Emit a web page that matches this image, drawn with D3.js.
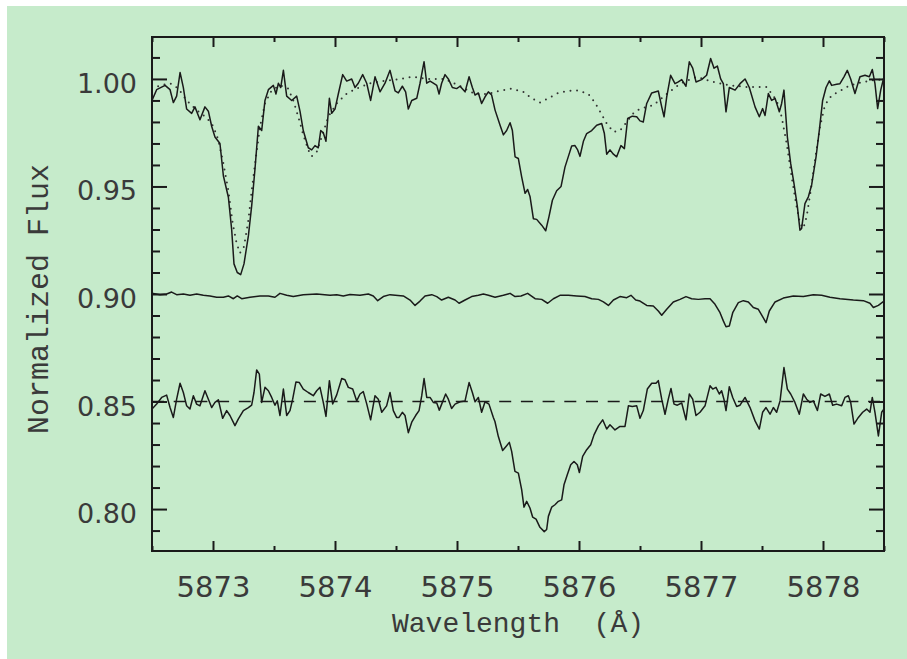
<!DOCTYPE html>
<html><head><meta charset="utf-8">
<script src="https://cdn.jsdelivr.net/npm/d3@7"></script>
<style>html,body{margin:0;padding:0;background:#fff;}svg{display:block}</style>
</head><body>
<svg id="chart" width="907" height="659"></svg>
<script>
// ---- data ----
const obsWave = [5872.500,5872.538,5872.607,5872.648,5872.675,5872.702,5872.730,5872.757,5872.784,5872.825,5872.852,5872.893,5872.934,5872.962,5872.989,5873.016,5873.057,5873.085,5873.126,5873.153,5873.172,5873.199,5873.227,5873.254,5873.290,5873.317,5873.344,5873.372,5873.399,5873.426,5873.454,5873.495,5873.516,5873.536,5873.555,5873.577,5873.604,5873.645,5873.686,5873.713,5873.740,5873.781,5873.809,5873.836,5873.863,5873.883,5873.904,5873.926,5873.954,5873.973,5874.000,5874.027,5874.063,5874.096,5874.137,5874.164,5874.191,5874.227,5874.260,5874.292,5874.328,5874.369,5874.410,5874.451,5874.492,
5874.519,5874.552,5874.579,5874.601,5874.629,5874.670,5874.697,5874.730,5874.752,5874.779,5874.806,5874.834,5874.853,5874.874,5874.902,5874.929,5874.962,5874.997,5875.025,5875.066,5875.099,5875.126,5875.148,5875.175,5875.202,5875.230,5875.257,5875.284,5875.312,5875.353,5875.380,5875.407,5875.435,5875.454,5875.476,5875.503,5875.530,5875.558,5875.579,5875.599,5875.626,5875.653,5875.694,5875.727,5875.754,5875.782,5875.817,5875.853,5875.885,5875.913,5875.940,5875.967,5875.989,5876.008,5876.036,5876.063,5876.104,5876.145,5876.186,5876.208,5876.227,5876.254,5876.282,5876.309,5876.344,5876.372,5876.399,5876.437,5876.473,5876.500,
5876.527,5876.555,5876.596,5876.650,5876.678,5876.697,5876.719,5876.751,5876.787,5876.814,5876.842,5876.877,5876.904,5876.932,5876.959,5877.005,5877.046,5877.079,5877.107,5877.134,5877.161,5877.183,5877.205,5877.232,5877.279,5877.320,5877.361,5877.396,5877.443,5877.478,5877.505,5877.525,5877.552,5877.579,5877.607,5877.642,5877.661,5877.680,5877.708,5877.735,5877.762,5877.790,5877.811,5877.825,5877.852,5877.880,5877.907,5877.943,5877.970,5877.997,5878.025,5878.052,5878.071,5878.112,5878.139,5878.172,5878.199,5878.227,5878.262,5878.303,5878.344,5878.380,5878.404,5878.426,5878.448,5878.473,5878.500];
const obsFlux = [0.990,0.995,0.997,0.995,0.989,0.992,1.003,0.996,0.986,0.984,0.987,0.981,0.987,0.985,0.978,0.973,0.970,0.955,0.945,0.930,0.914,0.910,0.909,0.914,0.927,0.941,0.958,0.978,0.976,0.990,0.995,0.997,0.993,0.998,0.996,1.004,0.992,0.990,0.992,0.985,0.976,0.968,0.967,0.969,0.968,0.976,0.975,0.971,0.991,0.984,0.986,0.993,1.002,0.999,1.000,0.996,0.998,1.002,0.998,0.990,1.001,0.994,0.998,1.004,0.9945,
0.9935,0.9966,0.994,0.986,0.990,0.991,0.998,1.008,0.998,0.999,0.998,0.997,0.993,0.998,1.002,1.000,0.996,0.9955,0.9966,0.994,1.001,0.996,0.9925,0.9935,0.9886,0.9917,0.994,0.9925,0.9855,0.9785,0.974,0.976,0.9796,0.976,0.9638,0.963,0.9545,0.9468,0.9486,0.9452,0.935,0.9347,0.932,0.9294,0.936,0.9436,0.948,0.950,0.959,0.964,0.9688,0.969,0.967,0.964,0.971,0.9746,0.976,0.9785,0.9793,0.9746,0.965,0.967,0.965,0.9638,0.969,0.9676,0.9816,0.9827,0.9824,0.9805,
0.980,0.9886,0.9935,0.9944,0.987,0.9824,0.9917,1.0017,0.9978,0.9986,0.9997,0.9966,1.008,1.005,0.9986,0.9997,1.0017,1.0095,1.005,1.006,1.000,0.9978,0.9847,0.996,0.9948,0.9978,1.000,0.996,0.987,0.9824,0.9862,0.983,0.9932,0.990,0.991,0.9847,0.9886,0.9948,0.973,0.9607,0.9514,0.9406,0.9297,0.9305,0.942,0.9452,0.9507,0.9638,0.9762,0.990,0.996,0.9991,0.997,0.9975,0.9978,1.001,1.004,1.000,0.9932,1.001,1.0017,1.001,1.0044,0.9978,0.9862,0.9948,1.001];

const modelWave = [5872.500,5872.566,5872.648,5872.716,5872.784,5872.866,5872.948,5873.003,5873.044,5873.085,5873.126,5873.161,5873.194,5873.221,5873.254,5873.290,5873.317,5873.352,5873.385,5873.426,5873.481,5873.549,5873.617,5873.658,5873.699,5873.740,5873.781,5873.809,5873.850,5873.891,5873.945,5874.014,5874.096,5874.178,5874.287,5874.396,5874.533,5874.629,5874.765,5874.902,5875.038,5875.148,5875.257,5875.339,5875.448,5875.544,5875.612,5875.680,5875.749,5875.831,5875.913,5875.995,5876.077,5876.131,5876.181,5876.227,5876.282,5876.336,5876.391,5876.445,5876.500,5876.609,5876.719,5876.828,5876.964,5877.101,5877.238,5877.374,5877.538,5877.620,5877.661,5877.702,5877.743,5877.779,5877.811,5877.839,5877.866,5877.899,5877.934,5877.975,5878.016,5878.071,5878.139,5878.221,5878.331,5878.413,5878.500];
const modelFlux = [0.9955,0.997,0.998,0.9955,0.990,0.9855,0.982,0.978,0.9715,0.9607,0.948,0.933,0.9235,0.919,0.922,0.9344,0.948,0.9638,0.9777,0.9886,0.9947,0.997,0.9955,0.990,0.9824,0.974,0.967,0.964,0.966,0.973,0.9824,0.9886,0.9932,0.9955,0.998,0.999,1.000,1.001,1.000,1.000,0.9963,0.993,0.993,0.9944,0.9955,0.994,0.991,0.989,0.991,0.9935,0.9944,0.9947,0.993,0.989,0.984,0.9793,0.9754,0.976,0.980,0.984,0.9862,0.9878,0.993,0.9978,1.001,0.9986,0.997,0.9963,0.9963,0.990,0.9824,0.970,0.9545,0.942,0.9328,0.9305,0.936,0.948,0.962,0.9777,0.9878,0.9924,0.9944,0.997,0.9986,0.9994,0.9997];

const tellWave = [5872.500,5872.566,5872.620,5872.661,5872.702,5872.757,5872.811,5872.866,5872.921,5872.975,5873.030,5873.085,5873.126,5873.167,5873.199,5873.235,5873.303,5873.385,5873.454,5873.508,5873.549,5873.604,5873.658,5873.740,5873.850,5873.959,5874.014,5874.068,5874.123,5874.205,5874.273,5874.314,5874.350,5874.396,5874.451,5874.560,5874.615,5874.656,5874.697,5874.738,5874.793,5874.834,5874.874,5874.929,5874.984,5875.017,5875.066,5875.120,5875.175,5875.216,5875.257,5875.312,5875.380,5875.435,5875.476,5875.525,5875.579,5875.640,5875.694,5875.743,5875.790,5875.844,5875.913,5875.981,5876.049,5876.104,5876.159,5876.200,5876.241,5876.282,5876.336,5876.391,5876.426,5876.465,5876.500,5876.555,5876.609,5876.650,5876.678,5876.719,5876.773,5876.828,5876.877,5876.923,5876.978,5877.033,5877.074,5877.115,5877.156,5877.183,5877.205,5877.232,5877.260,5877.306,5877.347,5877.388,5877.429,5877.470,5877.505,5877.533,5877.560,5877.607,5877.675,5877.757,5877.839,5877.921,5877.989,5878.057,5878.139,5878.249,5878.331,5878.385,5878.413,5878.454,5878.500];
const tellFlux = [0.9003,0.8997,0.900,0.9009,0.8997,0.900,0.8994,0.900,0.8994,0.8991,0.8985,0.8985,0.8991,0.8978,0.8991,0.8978,0.8985,0.8991,0.8991,0.8985,0.9003,0.8994,0.8988,0.8997,0.900,0.8994,0.8997,0.8991,0.8998,0.8994,0.900,0.8991,0.8969,0.8988,0.8997,0.8991,0.8972,0.8947,0.8967,0.8991,0.8997,0.8988,0.8972,0.8985,0.8972,0.8957,0.8972,0.8988,0.8994,0.900,0.8994,0.8985,0.8994,0.9003,0.8988,0.8991,0.9003,0.8978,0.8975,0.8957,0.8978,0.8994,0.8994,0.8991,0.8988,0.8978,0.8975,0.8963,0.8947,0.8972,0.8988,0.8983,0.8994,0.8972,0.8967,0.8947,0.8944,0.8921,0.8901,0.8929,0.8963,0.8975,0.8988,0.8978,0.8975,0.8978,0.8978,0.8952,0.8913,0.8875,0.8848,0.8851,0.8913,0.896,0.8969,0.8963,0.8937,0.8929,0.8895,0.8867,0.8921,0.8963,0.8981,0.8991,0.8988,0.8997,0.8994,0.8985,0.8978,0.8972,0.8969,0.8957,0.8937,0.8947,0.8967];

const resWave = [5872.500,5872.538,5872.579,5872.620,5872.648,5872.675,5872.702,5872.730,5872.757,5872.784,5872.811,5872.839,5872.866,5872.893,5872.934,5872.962,5872.989,5873.016,5873.044,5873.079,5873.112,5873.139,5873.180,5873.208,5873.249,5873.290,5873.317,5873.336,5873.358,5873.380,5873.399,5873.426,5873.454,5873.481,5873.508,5873.527,5873.549,5873.577,5873.604,5873.631,5873.653,5873.680,5873.708,5873.740,5873.781,5873.822,5873.850,5873.877,5873.904,5873.926,5873.954,5873.981,5874.014,5874.055,5874.082,5874.109,5874.145,5874.178,5874.205,5874.232,5874.260,5874.292,5874.328,5874.355,5874.383,5874.423,5874.451,5874.478,5874.505,
5874.525,5874.552,5874.574,5874.601,5874.629,5874.661,5874.689,5874.711,5874.730,5874.752,5874.779,5874.806,5874.834,5874.855,5874.880,5874.907,5874.929,5874.956,5874.984,5875.025,5875.066,5875.099,5875.126,5875.148,5875.175,5875.202,5875.230,5875.262,5875.298,
5875.311,5875.339,5875.374,5875.402,5875.429,5875.448,5875.475,5875.503,5875.530,5875.549,5875.571,5875.598,5875.620,5875.648,5875.680,5875.715,5875.735,5875.749,5875.776,5875.803,5875.831,5875.858,5875.877,5875.904,5875.932,5875.959,5875.986,5876.003,5876.030,5876.063,5876.096,5876.123,5876.159,5876.194,5876.227,5876.254,5876.295,5876.336,5876.377,5876.405,5876.437,5876.473,
5876.500,5876.527,5876.560,5876.596,5876.631,5876.650,5876.678,5876.705,5876.732,5876.754,5876.779,5876.806,5876.842,5876.877,5876.904,5876.932,5876.959,5876.992,5877.033,5877.074,5877.096,5877.123,5877.150,5877.169,5877.189,5877.205,5877.232,5877.260,5877.292,5877.320,5877.361,5877.402,5877.443,5877.478,5877.505,5877.533,5877.566,5877.593,5877.620,5877.648,5877.680,5877.708,5877.735,5877.770,5877.806,5877.839,5877.866,5877.893,5877.921,5877.954,5877.981,5878.016,5878.052,5878.079,5878.112,5878.153,5878.180,5878.208,5878.227,5878.254,5878.290,5878.325,5878.358,5878.385,5878.404,5878.426,5878.454,5878.481,5878.500];
const resFlux = [0.8465,0.8488,0.8519,0.853,0.8472,0.8426,0.8511,0.8585,0.8542,0.848,0.8465,0.8527,0.8488,0.848,0.855,0.8511,0.8472,0.8496,0.8508,0.8422,0.8458,0.8435,0.8388,0.8419,0.8458,0.8472,0.8483,0.8542,0.8647,0.8627,0.8496,0.8566,0.855,0.8519,0.8483,0.8503,0.8435,0.8558,0.8435,0.8458,0.8511,0.8591,0.8588,0.8558,0.8542,0.8527,0.855,0.8566,0.8496,0.8431,0.8597,0.8489,0.8531,0.8607,0.8601,0.8566,0.8558,0.8503,0.8535,0.8546,0.8489,0.8415,0.8527,0.8511,0.845,0.848,0.8542,0.8458,0.8426,
0.8426,0.845,0.8435,0.8355,0.8404,0.8435,0.8458,0.8527,0.8607,0.8519,0.8519,0.8496,0.8493,0.846,0.8496,0.8535,0.8511,0.8468,0.8488,0.8499,0.8503,0.8588,0.8542,0.8499,0.8519,0.845,0.8499,0.8488,0.8426,
0.8407,0.8337,0.8272,0.8291,0.8310,0.8268,0.8175,0.8167,0.8090,0.8009,0.8036,0.8005,0.7963,0.7953,0.7915,0.7895,0.7905,0.7966,0.8009,0.802,0.8036,0.8043,0.8113,0.816,0.8206,0.8221,0.8206,0.817,0.8245,0.8276,0.8299,0.8345,0.8387,0.8415,0.8372,0.8392,0.8368,0.8384,0.8384,0.848,0.8477,0.848,
0.8422,0.8458,0.8558,0.8585,0.8585,0.8597,0.8511,0.8441,0.8511,0.8561,0.8488,0.8483,0.8493,0.8415,0.8535,0.8511,0.8435,0.845,0.848,0.8573,0.8558,0.8566,0.8535,0.855,0.8508,0.8458,0.8569,0.8519,0.8477,0.8483,0.8519,0.8472,0.841,0.8372,0.845,0.8472,0.8441,0.8472,0.845,0.8503,0.8658,0.8558,0.8535,0.8496,0.8441,0.8535,0.8511,0.8496,0.8503,0.8458,0.8535,0.8524,0.8535,0.8483,0.8488,0.848,0.8519,0.8527,0.8496,0.8395,0.8426,0.845,0.8465,0.845,0.8519,0.845,0.834,0.845,0.8465];

const refLevel = 0.85;
const xMajorTicks = [5873,5874,5875,5876,5877,5878];
const xMinorTicks = [5872.5,5873.5,5874.5,5875.5,5876.5,5877.5,5878.5];
const yMajorTicks = [0.80,0.85,0.90,0.95,1.00];
const yMinorTicks = [0.79,0.81,0.82,0.83,0.84,0.86,0.87,0.88,0.89,0.91,0.92,0.93,0.94,0.96,0.97,0.98,0.99,1.01];
const xTitle = "Wavelength\u00A0\u00A0(Å)";
const yTitle = "Normalized Flux";

// ---- drawing ----
const svg = d3.select("#chart");
const L = 152, R = 884, T = 37, B = 551;
svg.append("rect").attr("x",7).attr("y",6).attr("width",900).attr("height",653).attr("fill","#c6ebcb");

const x = d3.scaleLinear().domain([5872.5,5878.5]).range([L,R]);
const y = d3.scaleLinear().domain([0.7805,1.0195]).range([B,T]);

const ink = "#1a1a1a";
const textInk = "#3a3a3a";
const plot = svg.append("g");
svg.append("clipPath").attr("id","clp").append("rect").attr("x",L).attr("y",T).attr("width",R-L).attr("height",B-T);
plot.attr("clip-path","url(#clp)");

const line = d3.line().x(d=>x(d[0])).y(d=>y(d[1]));
const zip = (a,b)=>a.map((v,i)=>[v,b[i]]);

plot.append("path").datum(zip(modelWave,modelFlux)).attr("d",line)
  .attr("fill","none").attr("stroke","#333").attr("stroke-width",2)
  .attr("stroke-dasharray","0,6.6").attr("stroke-linecap","round");
plot.append("path").datum(zip(obsWave,obsFlux)).attr("d",line)
  .attr("fill","none").attr("stroke",ink).attr("stroke-width",1.5).attr("stroke-linejoin","round");
plot.append("path").datum(zip(tellWave,tellFlux)).attr("d",line)
  .attr("fill","none").attr("stroke",ink).attr("stroke-width",1.5).attr("stroke-linejoin","round");
plot.append("line").attr("x1",x(5872.5)).attr("x2",x(5878.5)).attr("y1",y(refLevel)).attr("y2",y(refLevel))
  .attr("stroke",ink).attr("stroke-width",1.6).attr("stroke-dasharray","12,9.7");
plot.append("path").datum(zip(resWave,resFlux)).attr("d",line)
  .attr("fill","none").attr("stroke",ink).attr("stroke-width",1.5).attr("stroke-linejoin","round");

// axes
function styleAxis(g){ g.select(".domain").remove(); g.selectAll(".tick line").attr("stroke",ink).attr("stroke-width",2); }
const tickFont = "'DejaVu Sans', sans-serif";

const gxb = svg.append("g").attr("transform",`translate(0,${B})`)
  .call(d3.axisBottom(x).tickValues(xMajorTicks).tickSize(-10).tickPadding(25).tickFormat(d3.format("d")));
styleAxis(gxb);
gxb.selectAll("text").attr("font-family",tickFont).attr("font-size",29).attr("fill",textInk).attr("y",25).attr("dy","0.71em");
svg.append("g").attr("transform",`translate(0,${B})`).call(d3.axisBottom(x).tickValues(xMinorTicks).tickSize(-5).tickFormat("")).call(styleAxis);
svg.append("g").attr("transform",`translate(0,${T})`).call(d3.axisTop(x).tickValues(xMajorTicks).tickSize(-10).tickFormat("")).call(styleAxis);
svg.append("g").attr("transform",`translate(0,${T})`).call(d3.axisTop(x).tickValues(xMinorTicks).tickSize(-5).tickFormat("")).call(styleAxis);

const gyl = svg.append("g").attr("transform",`translate(${L},0)`)
  .call(d3.axisLeft(y).tickValues(yMajorTicks).tickSize(-15).tickPadding(15).tickFormat(d3.format(".2f")));
styleAxis(gyl);
gyl.selectAll("text").attr("font-family",tickFont).attr("font-size",27).attr("fill",textInk).attr("x",-15).attr("dy","0.5em");
svg.append("g").attr("transform",`translate(${L},0)`).call(d3.axisLeft(y).tickValues(yMinorTicks).tickSize(-8).tickFormat("")).call(styleAxis);
svg.append("g").attr("transform",`translate(${R},0)`).call(d3.axisRight(y).tickValues(yMajorTicks).tickSize(-15).tickFormat("")).call(styleAxis);
svg.append("g").attr("transform",`translate(${R},0)`).call(d3.axisRight(y).tickValues(yMinorTicks).tickSize(-8).tickFormat("")).call(styleAxis);

svg.append("rect").attr("x",L).attr("y",T).attr("width",R-L).attr("height",B-T)
  .attr("fill","none").attr("stroke",ink).attr("stroke-width",2);

const titleFont = "'Liberation Mono', 'Courier New', monospace";
svg.append("text").attr("x",(L+R)/2).attr("y",632).attr("text-anchor","middle")
  .attr("font-family",titleFont).attr("font-size",28).attr("fill",textInk).text(xTitle);
svg.append("text").attr("transform",`translate(48,${(T+B)/2+5}) rotate(-90)`).attr("text-anchor","middle")
  .attr("font-family",titleFont).attr("font-size",30).attr("fill",textInk).text(yTitle);
</script>
</body></html>
